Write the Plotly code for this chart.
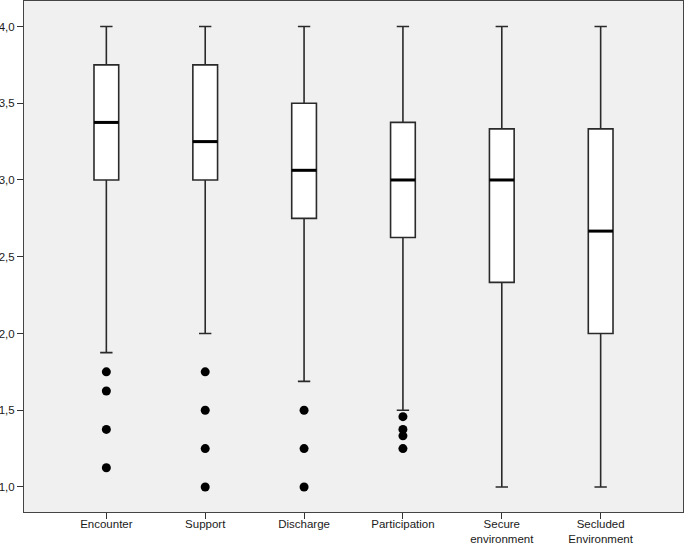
import plotly.graph_objects as go

categories = ["Encounter", "Support", "Discharge", "Participation",
              "Secure<br>environment", "Secluded<br>Environment"]
upper_whisker = [4.0, 4.0, 4.0, 4.0, 4.0, 4.0]
q3_values = [3.75, 3.75, 3.5, 3.375, 3.333, 3.333]
median_values = [3.375, 3.25, 3.063, 3.0, 3.0, 2.667]
q1_values = [3.0, 3.0, 2.75, 2.625, 2.333, 2.0]
lower_whisker = [1.875, 2.0, 1.688, 1.5, 1.0, 1.0]
outliers = [
    [1.75, 1.625, 1.375, 1.125],
    [1.75, 1.5, 1.25, 1.0],
    [1.5, 1.25, 1.0],
    [1.458, 1.375, 1.333, 1.25],
    [],
    [],
]
y_ticks = [1.0, 1.5, 2.0, 2.5, 3.0, 3.5, 4.0]

positions = list(range(len(categories)))
box_w = 0.25

fig = go.Figure()
fig.add_trace(go.Box(
    x=positions,
    q1=q1_values, median=median_values, q3=q3_values,
    lowerfence=lower_whisker, upperfence=upper_whisker,
    width=box_w, whiskerwidth=0.5,
    fillcolor="white",
    line=dict(color="#2a2a2a", width=1.6),
    boxpoints=False, showlegend=False, hoverinfo="skip",
))

# thick median lines
mx, my = [], []
for p, m in zip(positions, median_values):
    mx += [p - box_w / 2, p + box_w / 2, None]
    my += [m, m, None]
fig.add_trace(go.Scatter(x=mx, y=my, mode="lines",
                         line=dict(color="black", width=3),
                         showlegend=False, hoverinfo="skip"))

ox, oy = [], []
for p, vals in zip(positions, outliers):
    for v in vals:
        ox.append(p)
        oy.append(v)
fig.add_trace(go.Scatter(x=ox, y=oy, mode="markers",
                         marker=dict(color="black", size=9),
                         showlegend=False, hoverinfo="skip"))

fig.update_layout(
    width=685, height=545,
    margin=dict(l=24, r=2, t=1, b=33, autoexpand=False),
    paper_bgcolor="white",
    plot_bgcolor="#f0f0f0",
    separators=",.",
    font=dict(family="Liberation Sans, Arial, sans-serif", size=11.5, color="#1a1a1a"),
    showlegend=False,
)
fig.update_xaxes(
    range=[-0.833, 5.833], automargin=False,
    tickmode="array", tickvals=positions, ticktext=categories,
    ticks="outside", ticklen=6, tickcolor="#333333", tickwidth=1,
    ticklabelstandoff=-5,
    showgrid=False, zeroline=False,
    showline=True, linecolor="#444444", linewidth=1, mirror=True,
)
fig.update_yaxes(
    range=[0.837, 4.166], automargin=False,
    tickmode="array", tickvals=y_ticks, tickformat=".1f",
    ticks="outside", ticklen=6, tickcolor="#333333", tickwidth=1,
    showgrid=False, zeroline=False,
    showline=True, linecolor="#444444", linewidth=1, mirror=True,
)

fig.write_html("out.html",
               config={"displayModeBar": False},
               post_script="document.body.style.margin='0';document.body.style.overflow='hidden';")
